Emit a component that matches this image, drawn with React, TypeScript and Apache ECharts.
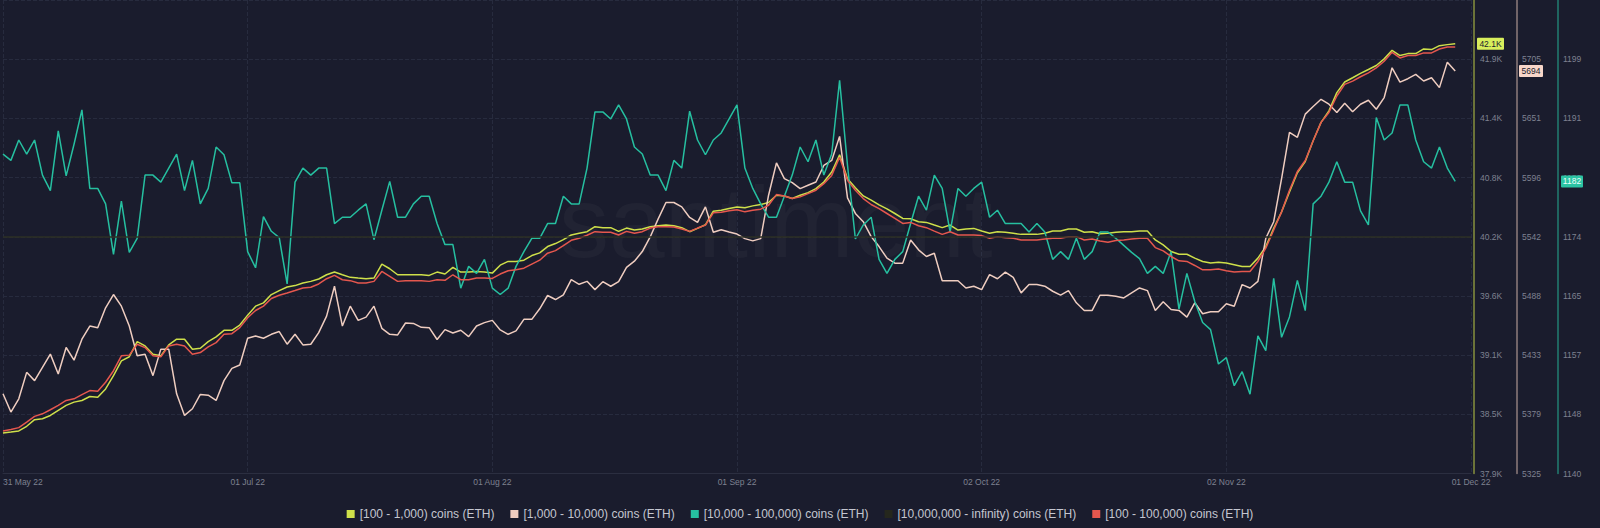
import React, { useEffect, useRef } from 'react';
import * as echarts from 'echarts';

const xTickLabels = ['31 May 22', '01 Jul 22', '01 Aug 22', '01 Sep 22', '02 Oct 22', '02 Nov 22', '01 Dec 22'];
const xTickStepDays = 31;
const xMaxDays = 186;

const seriesNames = [
  '[100 - 1,000) coins (ETH)',
  '[1,000 - 10,000) coins (ETH)',
  '[10,000 - 100,000) coins (ETH)',
  '[10,000,000 - infinity) coins (ETH)',
  '[100 - 100,000) coins (ETH)',
];

// daily values, 31 May 22 -> 01 Dec 22
const coins100to1k = [
  38313, 38322, 38332, 38377, 38441, 38450, 38482, 38531, 38579, 38611,
  38627, 38665, 38659, 38739, 38867, 39011, 39050, 39197, 39155, 39075,
  39059, 39165, 39220, 39220, 39123, 39133, 39197, 39242, 39306, 39306,
  39357, 39453, 39540, 39572, 39652, 39691, 39726, 39739, 39764, 39780,
  39803, 39844, 39870, 39844, 39819, 39812, 39806, 39812, 39947, 39902,
  39844, 39844, 39844, 39844, 39838, 39870, 39851, 39915, 39870, 39870,
  39876, 39870, 39860, 39937, 39973, 39973, 39985, 40030, 40056, 40117,
  40146, 40184, 40229, 40245, 40261, 40309, 40300, 40300, 40264, 40296,
  40277, 40287, 40309, 40319, 40325, 40319, 40300, 40261, 40293, 40328,
  40460, 40469, 40485, 40501, 40492, 40511, 40524, 40543, 40614, 40607,
  40582, 40614, 40639, 40678, 40742, 40838, 41005, 40774, 40687, 40607,
  40566, 40521, 40482, 40437, 40389, 40386, 40357, 40351, 40325, 40300,
  40325, 40277, 40287, 40293, 40267, 40245, 40261, 40255, 40245, 40235,
  40235, 40235, 40245, 40267, 40267, 40287, 40287, 40255, 40261, 40242,
  40245, 40255, 40261, 40261, 40267, 40267, 40181, 40133, 40069, 40043,
  40043, 40005, 39973, 39957, 39966, 39957, 39941, 39925, 39925, 40005,
  40117, 40293, 40453, 40646, 40832, 40940, 41142, 41319, 41431, 41607,
  41710, 41751, 41793, 41831, 41870, 41934, 42017, 41966, 41985, 41985,
  42030, 42024, 42062, 42072, 42081,
];

const coins1kto10k = [
  5397.9, 5381.2, 5393.3, 5417.6, 5410.0, 5422.2, 5434.3, 5416.1, 5440.4, 5428.8,
  5448.0, 5460.1, 5458.6, 5476.8, 5489.0, 5478.3, 5460.1, 5432.8, 5434.3, 5414.6,
  5438.9, 5438.9, 5397.9, 5378.1, 5384.2, 5397.3, 5396.6, 5391.8, 5410.0, 5421.2,
  5424.3, 5448.9, 5451.0, 5448.9, 5452.5, 5455.0, 5443.4, 5452.5, 5442.8, 5443.4,
  5454.0, 5469.2, 5496.6, 5460.1, 5478.3, 5465.3, 5468.3, 5478.3, 5458.0, 5452.5,
  5451.9, 5462.9, 5462.5, 5458.9, 5458.6, 5447.7, 5456.8, 5453.7, 5456.2, 5450.4,
  5460.1, 5463.2, 5465.3, 5456.5, 5452.5, 5455.6, 5466.2, 5466.2, 5475.9, 5488.1,
  5484.4, 5488.7, 5502.6, 5498.4, 5501.1, 5493.5, 5500.8, 5496.6, 5500.8, 5513.9,
  5519.6, 5528.4, 5541.8, 5558.2, 5573.4, 5573.4, 5569.4, 5559.7, 5555.2, 5569.4,
  5546.1, 5548.5, 5546.4, 5544.5, 5540.3, 5538.2, 5540.3, 5580.1, 5609.8, 5595.3,
  5591.6, 5586.1, 5589.2, 5592.2, 5607.4, 5612.0, 5634.1, 5577.6, 5563.4, 5555.8,
  5542.1, 5533.0, 5522.4, 5517.8, 5517.8, 5539.1, 5530.0, 5523.9, 5526.9, 5501.7,
  5501.7, 5501.7, 5495.0, 5496.6, 5493.5, 5507.2, 5503.5, 5509.6, 5504.8, 5490.5,
  5498.1, 5498.1, 5496.6, 5492.0, 5488.4, 5492.6, 5481.4, 5474.4, 5474.4, 5488.4,
  5488.4, 5487.4, 5485.9, 5490.5, 5495.0, 5492.6, 5474.4, 5482.3, 5475.3, 5474.4,
  5468.3, 5481.4, 5471.4, 5473.2, 5473.2, 5480.5, 5478.3, 5498.1, 5495.0, 5501.1,
  5540.6, 5555.8, 5595.3, 5637.8, 5633.2, 5654.5, 5661.5, 5668.1, 5663.6, 5656.0,
  5664.5, 5656.6, 5663.6, 5667.2, 5659.0, 5669.7, 5697.0, 5683.9, 5687.0, 5690.9,
  5684.9, 5687.9, 5678.8, 5702.2, 5694.0,
];

const coins10kto100k = [
  1185.5, 1184.6, 1187.5, 1185.5, 1187.5, 1182.5, 1180.3, 1188.8, 1182.4, 1186.9,
  1191.8, 1180.6, 1180.6, 1178.4, 1171.2, 1178.8, 1171.5, 1173.5, 1182.5, 1182.5,
  1181.5, 1183.5, 1185.5, 1180.3, 1184.6, 1178.4, 1180.6, 1186.5, 1185.4, 1181.4,
  1181.4, 1171.6, 1169.3, 1176.6, 1174.5, 1173.6, 1167.0, 1181.5, 1183.5, 1182.5,
  1183.5, 1183.5, 1175.6, 1176.5, 1176.5, 1177.5, 1178.4, 1173.3, 1177.5, 1181.6,
  1176.5, 1176.5, 1178.4, 1179.5, 1179.5, 1175.6, 1172.6, 1172.6, 1166.4, 1169.5,
  1168.5, 1170.5, 1166.4, 1165.5, 1166.4, 1169.5, 1171.6, 1173.5, 1173.5, 1175.6,
  1175.6, 1179.5, 1178.4, 1178.4, 1183.5, 1191.5, 1191.5, 1190.5, 1192.5, 1190.5,
  1186.5, 1185.5, 1182.5, 1182.5, 1180.3, 1184.6, 1183.5, 1191.6, 1187.5, 1185.4,
  1187.5, 1188.5, 1190.5, 1192.5, 1183.5, 1180.6, 1178.4, 1176.5, 1176.5, 1179.5,
  1182.5, 1186.5, 1184.4, 1187.5, 1182.5, 1185.5, 1196.0, 1183.9, 1173.4, 1175.4,
  1176.5, 1170.5, 1168.5, 1170.5, 1171.6, 1175.6, 1179.5, 1177.5, 1182.5, 1180.6,
  1174.4, 1180.6, 1179.5, 1180.6, 1181.5, 1176.5, 1177.5, 1175.6, 1175.6, 1175.6,
  1174.4, 1175.6, 1174.4, 1170.5, 1171.6, 1170.5, 1173.5, 1170.5, 1171.6, 1174.4,
  1174.4, 1173.5, 1172.5, 1171.5, 1170.6, 1168.5, 1169.5, 1168.5, 1171.6, 1163.4,
  1168.5, 1164.5, 1161.5, 1160.5, 1155.6, 1156.5, 1152.5, 1154.5, 1151.3, 1159.6,
  1157.5, 1167.8, 1159.4, 1162.3, 1167.5, 1163.2, 1178.4, 1179.5, 1181.5, 1184.4,
  1181.5, 1181.5, 1177.4, 1175.4, 1190.7, 1187.5, 1188.5, 1192.5, 1192.5, 1187.5,
  1184.4, 1183.5, 1186.5, 1183.5, 1181.6,
];

const coins10mPlusLevel = [1];

const coins100to100k = [
  38332, 38345, 38364, 38418, 38473, 38498, 38537, 38579, 38627, 38643,
  38684, 38723, 38716, 38803, 38915, 39059, 39066, 39171, 39139, 39059,
  39050, 39155, 39171, 39155, 39075, 39091, 39146, 39187, 39268, 39274,
  39332, 39428, 39498, 39540, 39614, 39646, 39668, 39691, 39716, 39723,
  39755, 39806, 39838, 39796, 39787, 39764, 39764, 39780, 39876, 39828,
  39780, 39787, 39787, 39787, 39780, 39796, 39790, 39844, 39796, 39796,
  39812, 39812, 39809, 39851, 39883, 39892, 39908, 39947, 39985, 40053,
  40078, 40126, 40178, 40197, 40226, 40261, 40255, 40255, 40229, 40264,
  40245, 40261, 40296, 40309, 40309, 40306, 40287, 40264, 40296, 40325,
  40444, 40450, 40463, 40473, 40453, 40469, 40479, 40517, 40620, 40607,
  40582, 40598, 40630, 40662, 40726, 40806, 40982, 40758, 40662, 40582,
  40524, 40485, 40437, 40389, 40341, 40351, 40319, 40300, 40267, 40235,
  40261, 40229, 40229, 40229, 40223, 40197, 40213, 40203, 40197, 40181,
  40181, 40181, 40191, 40197, 40197, 40213, 40213, 40181, 40191, 40171,
  40159, 40175, 40181, 40191, 40197, 40197, 40107, 40075, 40021, 39979,
  39973, 39934, 39892, 39892, 39899, 39883, 39870, 39876, 39876, 39973,
  40101, 40277, 40453, 40662, 40844, 40950, 41142, 41319, 41415, 41575,
  41687, 41719, 41761, 41799, 41847, 41911, 41998, 41943, 41966, 41966,
  41992, 41992, 42030, 42049, 42049,
];

// axis scales (min, interval, 8 intervals)
const axisYellow = { min: 37920, interval: 573 };
const axisPink = { min: 5324.8, interval: 54.3 };
const axisTeal = { min: 1140, interval: 8.43 };

const C_YELLOW = '#cfe04a';
const C_PINK = '#efcdc0';
const C_TEAL = '#26bfa0';
const C_DARK = '#25271d';
const C_RED = '#e5574e';
const BG = '#1a1c2d';
const LABEL = '#7e8190';
const GRID = '#272b3e';
const FONT = '"Liberation Sans", Arial, sans-serif';

const fmtK = (v: number) => (v / 1000).toFixed(1) + 'K';
const fmtInt = (v: number) => String(Math.round(v));

export default function App() {
  const ref = useRef<HTMLDivElement>(null);

  useEffect(() => {
    const chart = echarts.init(ref.current!, null, { renderer: 'svg' });
    const pairs = (arr: number[]) => arr.map((v, i) => [i, v]);

    const yAxisBase = (
      color: string,
      offset: number,
      margin: number,
      scale: { min: number; interval: number },
      fmt: (v: number) => string,
      split: boolean,
    ) => ({
      type: 'value',
      position: 'right',
      offset,
      min: scale.min,
      max: scale.min + scale.interval * 8,
      interval: scale.interval,
      axisLine: { show: true, onZero: false, lineStyle: { color, width: 1.5 } },
      axisTick: { show: false },
      axisLabel: {
        show: true,
        margin,
        color: LABEL,
        fontSize: 8.5,
        fontFamily: FONT,
        showMaxLabel: false,
        formatter: fmt,
      },
      splitLine: split ? { show: true, lineStyle: { color: GRID, type: 'dashed' } } : { show: false },
    });

    const lineSeries = (name: string, data: number[], color: string, yAxisIndex: number) => ({
      name,
      type: 'line',
      data: pairs(data),
      yAxisIndex,
      showSymbol: false,
      symbol: 'none',
      lineStyle: { color, width: 1.5 },
      itemStyle: { color },
      emphasis: { disabled: true },
    });

    const option: any = {
      animation: false,
      backgroundColor: BG,
      grid: { left: 0, right: 129, top: -3.3, bottom: 54.5, containLabel: false },
      legend: {
        data: seriesNames,
        top: 503,
        left: 'center',
        icon: 'rect',
        itemWidth: 8,
        itemHeight: 8,
        itemGap: 16,
        textStyle: { color: '#c4c6d0', fontSize: 12, fontFamily: FONT },
      },
      xAxis: {
        type: 'value',
        min: 0,
        max: xMaxDays,
        interval: xTickStepDays,
        axisLine: { show: true, onZero: false, lineStyle: { color: '#2b2e40' } },
        axisTick: { show: false },
        axisLabel: {
          color: LABEL,
          fontSize: 8.5,
          fontFamily: FONT,
          margin: 4,
          alignMinLabel: 'left',
          formatter: (v: number) => xTickLabels[Math.round(v / xTickStepDays)] ?? '',
        },
        splitLine: { show: true, lineStyle: { color: GRID, type: 'dashed' } },
      },
      yAxis: [
        yAxisBase('rgba(207,224,74,0.6)', 3, 6, axisYellow, fmtK, true),
        yAxisBase('rgba(239,205,192,0.55)', 46, 5, axisPink, fmtInt, false),
        yAxisBase('rgba(38,191,160,0.6)', 87, 5, axisTeal, fmtInt, false),
        {
          type: 'value', show: false, min: 0, max: 2, position: 'right',
          axisLine: { show: false, onZero: false }, axisLabel: { show: false },
          axisTick: { show: false }, splitLine: { show: false },
        },
      ],
      series: [
        lineSeries(seriesNames[0], coins100to1k, C_YELLOW, 0),
        lineSeries(seriesNames[1], coins1kto10k, C_PINK, 1),
        lineSeries(seriesNames[2], coins10kto100k, C_TEAL, 2),
        {
          name: seriesNames[3],
          type: 'line',
          yAxisIndex: 3,
          data: [],
          itemStyle: { color: C_DARK },
          lineStyle: { color: C_DARK },
          markLine: {
            silent: true,
            symbol: 'none',
            label: { show: false },
            lineStyle: { color: '#2c2f24', type: 'solid', width: 1.5 },
            data: coins10mPlusLevel.map((v) => ({ yAxis: v })),
          },
        },
        lineSeries(seriesNames[4], coins100to100k, C_RED, 0),
      ],
    };

    chart.setOption(option);

    const lastY = coins100to1k[coins100to1k.length - 1];
    const lastP = coins1kto10k[coins1kto10k.length - 1];
    const lastT = coins10kto100k[coins10kto100k.length - 1];
    const py0 = chart.convertToPixel({ yAxisIndex: 0 } as any, lastY) as unknown as number;
    const py1 = chart.convertToPixel({ yAxisIndex: 1 } as any, lastP) as unknown as number;
    const py2 = chart.convertToPixel({ yAxisIndex: 2 } as any, lastT) as unknown as number;

    const badge = (x: number, y: number, w: number, bg: string, fg: string, text: string) => ({
      type: 'group',
      z: 100,
      children: [
        { type: 'rect', shape: { x, y: y - 6, width: w, height: 12, r: 1 }, style: { fill: bg }, z: 100 },
        {
          type: 'text',
          z: 101,
          style: {
            text, x: x + w / 2, y, align: 'center', verticalAlign: 'middle',
            fill: fg, fontSize: 8.5, fontFamily: FONT,
          },
        },
      ],
    });

    chart.setOption({
      graphic: [
        {
          type: 'text',
          z: 0,
          silent: true,
          style: {
            text: '.santiment',
            x: 762,
            y: 222,
            align: 'center',
            verticalAlign: 'middle',
            fill: 'rgba(255,255,255,0.032)',
            fontSize: 100,
            fontFamily: '"Liberation Sans Narrow", "Liberation Sans", sans-serif',
          },
        },
        badge(1477, py0, 27, '#d8ee5c', '#1a1c2d', fmtK(lastY)),
        badge(1519, py1, 24, '#f7d6c9', '#1a1c2d', fmtInt(lastP)),
        badge(1561, py2, 22, '#2cc4a4', '#eafffa', fmtInt(lastT)),
      ],
    });

    return () => chart.dispose();
  }, []);

  return <div ref={ref} style={{ position: 'absolute', left: 0, top: 0, width: 1600, height: 528 }} />;
}
